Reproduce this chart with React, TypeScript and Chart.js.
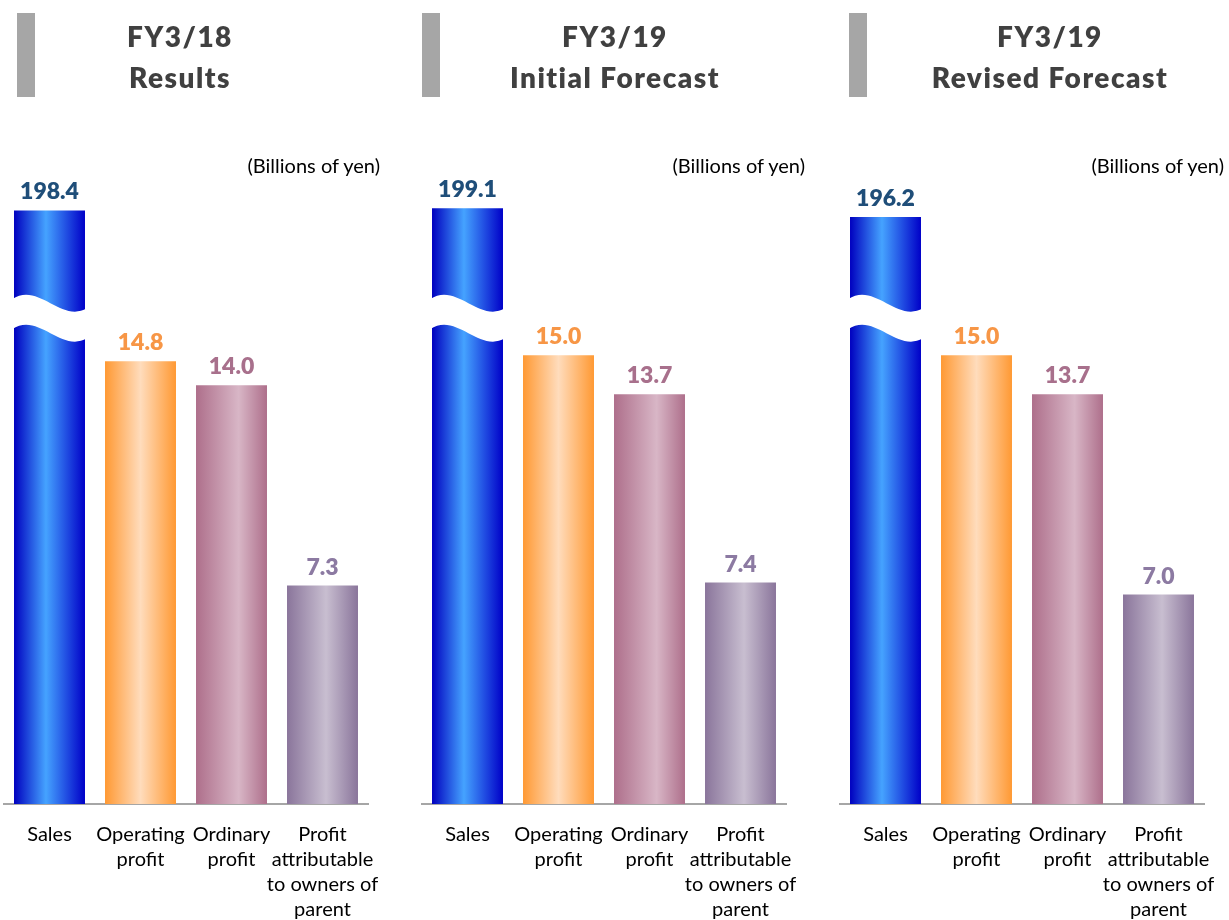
import React, { useEffect, useRef } from "react";
import { Chart, registerables } from "chart.js";

Chart.register(...registerables);

// ---------- data ----------
const categories: string[][] = [
  ["Sales"],
  ["Operating", "profit"],
  ["Ordinary", "profit"],
  ["Profit", "attributable", "to owners of", "parent"],
];
const periodTitles: string[][] = [
  ["FY3/18", "Results"],
  ["FY3/19", "Initial Forecast"],
  ["FY3/19", "Revised Forecast"],
];
const sales = [198.4, 199.1, 196.2];
const operatingProfit = [14.8, 15.0, 15.0];
const ordinaryProfit = [14.0, 13.7, 13.7];
const profitAttributable = [7.3, 7.4, 7.0];
const unitLabel = "(Billions of yen)";

// Sales is drawn on a broken (compressed) axis
const SALES_BREAK_DIVISOR = 10;
const BREAK_AT = 16.3;
const Y_MAX = 24;

// ---------- styles ----------
const FONT = "Lato, 'Open Sans', sans-serif";
const panelLefts = [0, 418, 836];
const titleCenters = [180, 615, 1050];
const grayBarLefts = [17, 422, 849];
const unitRights = [380, 805, 1224];

const gradientStops: [number, string][][] = [
  [[0, "#0000bf"], [0.45, "#45a3ff"], [1, "#0000c8"]],
  [[0, "#ff9933"], [0.5, "#ffdcbc"], [1, "#ff9933"]],
  [[0, "#ae6f8b"], [0.6, "#d8b6c6"], [1, "#ae6f8b"]],
  [[0, "#8a759b"], [0.55, "#c8bed0"], [1, "#8a759b"]],
];
const labelColors = ["#1f4e79", "#f79646", "#a8708c", "#8c7aa2"];
const BAR_PCT = 0.78;

function barFill(c: any) {
  const i = c.dataIndex;
  if (i === undefined) return "#888";
  const stops = gradientStops[i];
  const chart = c.chart;
  if (!chart.chartArea || !chart.scales.x) return stops[0][1];
  const xs = chart.scales.x;
  const cx = xs.getPixelForValue(i);
  const w = (xs.width / categories.length) * BAR_PCT;
  const g = chart.ctx.createLinearGradient(cx - w / 2, 0, cx + w / 2, 0);
  stops.forEach(([o, col]) => g.addColorStop(o, col));
  return g;
}

const breakPlugin = {
  id: "axisBreak",
  afterDatasetsDraw(chart: any) {
    const bar = chart.getDatasetMeta(0).data[0];
    if (!bar) return;
    const ctx = chart.ctx;
    const yc = chart.scales.y.getPixelForValue(BREAK_AT);
    const x0 = bar.x - bar.width / 2 - 2;
    const x1 = bar.x + bar.width / 2 + 2;
    const w = x1 - x0;
    const up = yc - 15;
    const lo = yc + 15;
    ctx.save();
    ctx.fillStyle = "#ffffff";
    ctx.beginPath();
    ctx.moveTo(x0, up - 2);
    ctx.bezierCurveTo(x0 + w * 0.35, up - 20, x0 + w * 0.65, up + 22, x1, up + 7);
    ctx.lineTo(x1, lo + 7);
    ctx.bezierCurveTo(x0 + w * 0.65, lo + 22, x0 + w * 0.35, lo - 20, x0, lo - 2);
    ctx.closePath();
    ctx.fill();
    ctx.restore();
  },
};

function makeLabelPlugin(values: number[]) {
  return {
    id: "valueLabels",
    afterDatasetsDraw(chart: any) {
      const ctx = chart.ctx;
      const meta = chart.getDatasetMeta(0);
      ctx.save();
      ctx.font = `800 23px ${FONT}`;
      ctx.textAlign = "center";
      ctx.textBaseline = "alphabetic";
      meta.data.forEach((bar: any, i: number) => {
        ctx.fillStyle = labelColors[i];
        ctx.fillText(values[i].toFixed(1), bar.x, bar.y - 11);
      });
      ctx.restore();
    },
  };
}

function Panel({ idx }: { idx: number }) {
  const ref = useRef<HTMLCanvasElement>(null);
  useEffect(() => {
    const values = [sales[idx], operatingProfit[idx], ordinaryProfit[idx], profitAttributable[idx]];
    const plotted = values.map((v, i) => (i === 0 ? v / SALES_BREAK_DIVISOR : v));
    const chart = new Chart(ref.current as HTMLCanvasElement, {
      type: "bar",
      data: {
        labels: categories,
        datasets: [
          {
            data: plotted,
            backgroundColor: barFill as any,
            borderWidth: 0,
            barPercentage: BAR_PCT,
            categoryPercentage: 1,
          },
        ],
      },
      options: {
        responsive: false,
        maintainAspectRatio: false,
        animation: false,
        layout: { padding: { left: 4, right: 22, top: 86, bottom: 0 } },
        plugins: {
          legend: { display: false },
          tooltip: { enabled: false },
          title: { display: false },
        },
        scales: {
          x: {
            grid: { display: false, drawTicks: false },
            border: { display: true, color: "#a6a6a6", width: 2 },
            ticks: {
              color: "#000000",
              font: { family: FONT, size: 20, lineHeight: 1.25 },
              padding: 18,
              maxRotation: 0,
              minRotation: 0,
              autoSkip: false,
            },
            afterFit: (s: any) => {
              s.height = 116;
              s.paddingLeft = 0;
              s.paddingRight = 0;
            },
          },
          y: { display: false, min: 0, max: Y_MAX },
        },
      },
      plugins: [breakPlugin, makeLabelPlugin(values)],
    });
    return () => chart.destroy();
  }, [idx]);
  return (
    <canvas
      ref={ref}
      width={390}
      height={920}
      style={{ position: "absolute", left: panelLefts[idx], top: 0, width: 390, height: 920 }}
    />
  );
}

function Header({ idx }: { idx: number }) {
  return (
    <>
      <div
        style={{
          position: "absolute",
          left: grayBarLefts[idx],
          top: 13,
          width: 18,
          height: 84,
          background: "#a6a6a6",
        }}
      />
      <div
        style={{
          position: "absolute",
          left: titleCenters[idx] - 170,
          top: 16,
          width: 340,
          textAlign: "center",
          fontFamily: FONT,
          fontWeight: 800,
          fontSize: 28,
          lineHeight: "41px",
          letterSpacing: 1.5,
          color: "#404040",
        }}
      >
        {periodTitles[idx].map((t, k) => (
          <div key={k}>{t}</div>
        ))}
      </div>
      <div
        style={{
          position: "absolute",
          left: unitRights[idx] - 200,
          top: 155,
          width: 200,
          textAlign: "right",
          fontFamily: FONT,
          fontSize: 20,
          lineHeight: "20px",
          color: "#000",
          whiteSpace: "nowrap",
        }}
      >
        {unitLabel}
      </div>
    </>
  );
}

export default function App() {
  return (
    <div
      style={{
        position: "absolute",
        left: 0,
        top: 0,
        width: 1229,
        height: 920,
        background: "#ffffff",
        overflow: "hidden",
      }}
    >
      {[0, 1, 2].map((i) => (
        <React.Fragment key={i}>
          <Panel idx={i} />
          <Header idx={i} />
        </React.Fragment>
      ))}
    </div>
  );
}
